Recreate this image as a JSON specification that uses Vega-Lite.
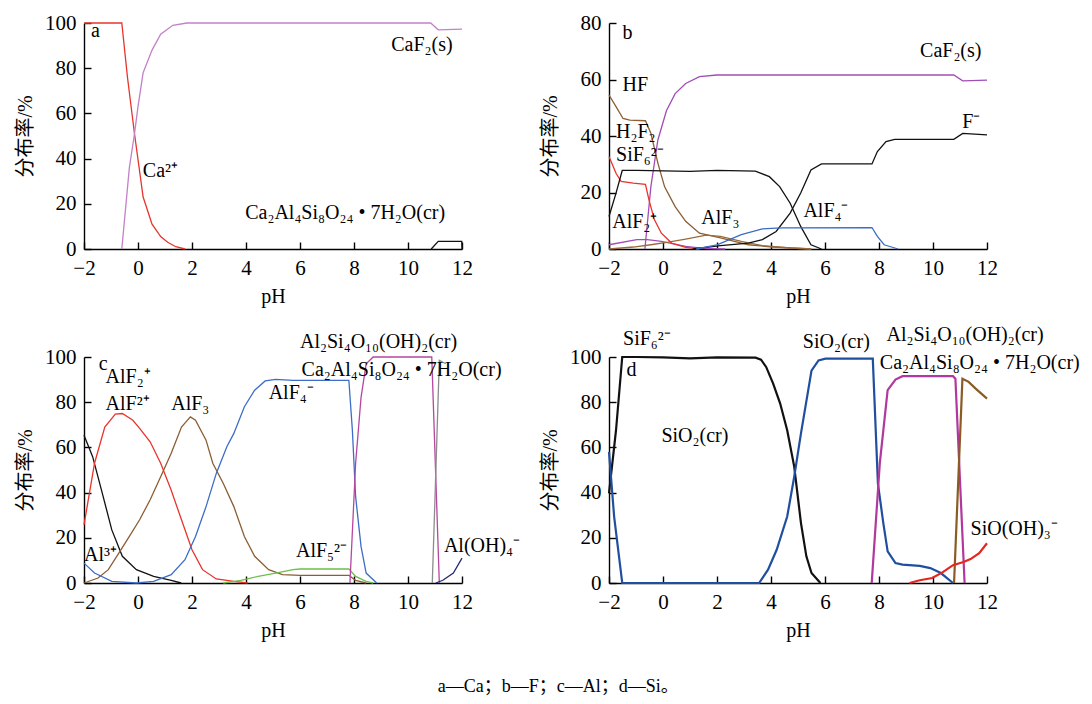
{
  "$schema": "https://vega.github.io/schema/vega-lite/v6.json",
  "padding": {"left": 15, "top": 12, "right": 5, "bottom": 5},
  "background": "white",
  "title": {"text": "a—Ca；b—F；c—Al；d—Si。", "orient": "bottom", "anchor": "middle", "frame": "bounds", "offset": 47, "baseline": "middle", "fontSize": 18, "font": "Liberation Serif, Noto Sans CJK SC", "fontWeight": "normal", "color": "#000", "dx": 11},
  "datasets": {
    "aL": [
      {"s": "Ca2+", "x": -2, "y": 100}, {"s": "Ca2+", "x": -0.6, "y": 100}, {"s": "Ca2+", "x": -0.39, "y": 76}, {"s": "Ca2+", "x": -0.13, "y": 51}, {"s": "Ca2+", "x": 0.19, "y": 23}, {"s": "Ca2+", "x": 0.52, "y": 11}, {"s": "Ca2+", "x": 0.84, "y": 5.5}, {"s": "Ca2+", "x": 1.1, "y": 3}, {"s": "Ca2+", "x": 1.4, "y": 1}, {"s": "Ca2+", "x": 1.74, "y": 0},
      {"s": "CaF2", "x": -0.6, "y": 0}, {"s": "CaF2", "x": -0.32, "y": 36}, {"s": "CaF2", "x": -0.13, "y": 51}, {"s": "CaF2", "x": 0, "y": 63}, {"s": "CaF2", "x": 0.19, "y": 78}, {"s": "CaF2", "x": 0.52, "y": 88}, {"s": "CaF2", "x": 0.84, "y": 95}, {"s": "CaF2", "x": 1.29, "y": 99}, {"s": "CaF2", "x": 1.81, "y": 100}, {"s": "CaF2", "x": 10.84, "y": 100}, {"s": "CaF2", "x": 11.12, "y": 97}, {"s": "CaF2", "x": 12, "y": 97.3},
      {"s": "Zeo", "x": 10.86, "y": 0}, {"s": "Zeo", "x": 11.12, "y": 3.4}, {"s": "Zeo", "x": 11.99, "y": 3.4}, {"s": "Zeo", "x": 12, "y": 0}
    ],
    "aT": [
      {"t": "a", "x": -1.74, "y": 96.6},
      {"t": "CaF₂(s)", "x": 9.38, "y": 90.4},
      {"t": "Ca²⁺", "x": 0.18, "y": 34.6},
      {"t": "Ca₂Al₄Si₈O₂₄ • 7H₂O(cr)", "x": 3.97, "y": 16}
    ],
    "bL": [
      {"s": "CaF2", "x": -0.67, "y": 0}, {"s": "CaF2", "x": -0.45, "y": 22}, {"s": "CaF2", "x": -0.19, "y": 38.6}, {"s": "CaF2", "x": 0.13, "y": 49}, {"s": "CaF2", "x": 0.45, "y": 55}, {"s": "CaF2", "x": 0.84, "y": 58.6}, {"s": "CaF2", "x": 1.35, "y": 61}, {"s": "CaF2", "x": 2.0, "y": 61.6}, {"s": "CaF2", "x": 10.77, "y": 61.6}, {"s": "CaF2", "x": 11.1, "y": 59.5}, {"s": "CaF2", "x": 12, "y": 59.8},
      {"s": "AlF2+", "x": -2, "y": 1.5}, {"s": "AlF2+", "x": -0.97, "y": 3.3}, {"s": "AlF2+", "x": -0.58, "y": 3.3}, {"s": "AlF2+", "x": -0.06, "y": 2.7}, {"s": "AlF2+", "x": 0.84, "y": 0.9}, {"s": "AlF2+", "x": 1.5, "y": 0.2}, {"s": "AlF2+", "x": 2.3, "y": 0},
      {"s": "HF", "x": -2, "y": 54.5}, {"s": "HF", "x": -1.74, "y": 50.4}, {"s": "HF", "x": -1.48, "y": 46.2}, {"s": "HF", "x": -1.23, "y": 45.6}, {"s": "HF", "x": -0.65, "y": 45.4}, {"s": "HF", "x": -0.45, "y": 41}, {"s": "HF", "x": -0.19, "y": 30.4}, {"s": "HF", "x": 0.06, "y": 22}, {"s": "HF", "x": 0.45, "y": 15}, {"s": "HF", "x": 0.84, "y": 9.8}, {"s": "HF", "x": 1.35, "y": 5.6}, {"s": "HF", "x": 2.13, "y": 3.9}, {"s": "HF", "x": 3.16, "y": 1.5}, {"s": "HF", "x": 4.06, "y": 0.7}, {"s": "HF", "x": 5.48, "y": 0},
      {"s": "AlF3", "x": -2, "y": 0}, {"s": "AlF3", "x": -1.1, "y": 0.7}, {"s": "AlF3", "x": -0.45, "y": 1.5}, {"s": "AlF3", "x": 0.19, "y": 2.4}, {"s": "AlF3", "x": 0.84, "y": 3.5}, {"s": "AlF3", "x": 1.6, "y": 4.9}, {"s": "AlF3", "x": 2.13, "y": 4.5}, {"s": "AlF3", "x": 2.9, "y": 2.7}, {"s": "AlF3", "x": 3.68, "y": 1.2}, {"s": "AlF3", "x": 4.7, "y": 0.35}, {"s": "AlF3", "x": 5.5, "y": 0},
      {"s": "H2F2", "x": -2, "y": 32.7}, {"s": "H2F2", "x": -1.74, "y": 26.8}, {"s": "H2F2", "x": -1.55, "y": 23.9}, {"s": "H2F2", "x": -1.1, "y": 23.3}, {"s": "H2F2", "x": -0.65, "y": 22.9}, {"s": "H2F2", "x": -0.52, "y": 17.4}, {"s": "H2F2", "x": -0.32, "y": 10.4}, {"s": "H2F2", "x": -0.06, "y": 5.6}, {"s": "H2F2", "x": 0.32, "y": 2.1}, {"s": "H2F2", "x": 0.84, "y": 0.6}, {"s": "H2F2", "x": 1.35, "y": 0},
      {"s": "SiF6", "x": -2, "y": 11.5}, {"s": "SiF6", "x": -1.74, "y": 19.8}, {"s": "SiF6", "x": -1.51, "y": 27.8}, {"s": "SiF6", "x": -0.97, "y": 27.8}, {"s": "SiF6", "x": 1, "y": 27.5}, {"s": "SiF6", "x": 2, "y": 27.8}, {"s": "SiF6", "x": 3.42, "y": 27.6}, {"s": "SiF6", "x": 3.94, "y": 25.6}, {"s": "SiF6", "x": 4.32, "y": 22.1}, {"s": "SiF6", "x": 4.71, "y": 16.2}, {"s": "SiF6", "x": 5.1, "y": 8}, {"s": "SiF6", "x": 5.48, "y": 1.5}, {"s": "SiF6", "x": 5.87, "y": 0},
      {"s": "F-", "x": 1.1, "y": 0}, {"s": "F-", "x": 2.13, "y": 1.2}, {"s": "F-", "x": 3.16, "y": 2.1}, {"s": "F-", "x": 3.68, "y": 3.3}, {"s": "F-", "x": 4.19, "y": 6.2}, {"s": "F-", "x": 4.71, "y": 12.7}, {"s": "F-", "x": 5.1, "y": 19.8}, {"s": "F-", "x": 5.48, "y": 28}, {"s": "F-", "x": 5.87, "y": 30.1}, {"s": "F-", "x": 7.74, "y": 30.1}, {"s": "F-", "x": 7.94, "y": 34.5}, {"s": "F-", "x": 8.26, "y": 38}, {"s": "F-", "x": 8.58, "y": 38.8}, {"s": "F-", "x": 10.77, "y": 38.8}, {"s": "F-", "x": 11.1, "y": 40.9}, {"s": "F-", "x": 12, "y": 40.4},
      {"s": "AlF4-", "x": 1.23, "y": 0}, {"s": "AlF4-", "x": 2.0, "y": 1.5}, {"s": "AlF4-", "x": 2.9, "y": 5.1}, {"s": "AlF4-", "x": 3.68, "y": 7.1}, {"s": "AlF4-", "x": 4.19, "y": 7.4}, {"s": "AlF4-", "x": 4.45, "y": 7.5}, {"s": "AlF4-", "x": 7.74, "y": 7.6}, {"s": "AlF4-", "x": 7.94, "y": 4.5}, {"s": "AlF4-", "x": 8.19, "y": 1.5}, {"s": "AlF4-", "x": 8.71, "y": 0}
    ],
    "bT": [
      {"t": "b", "x": -1.5, "y": 76.3},
      {"t": "CaF₂(s)", "x": 9.52, "y": 70},
      {"t": "HF", "x": -1.5, "y": 58},
      {"t": "H₂F₂", "x": -1.74, "y": 41.5},
      {"t": "SiF₆²⁻", "x": -1.74, "y": 33.3},
      {"t": "F⁻", "x": 11.08, "y": 45},
      {"t": "AlF₂⁺", "x": -1.88, "y": 9.7},
      {"t": "AlF₃", "x": 1.42, "y": 11},
      {"t": "AlF₄⁻", "x": 5.2, "y": 13.5}
    ],
    "cL": [
      {"s": "Al3+", "x": -2, "y": 65.4}, {"s": "Al3+", "x": -1.68, "y": 55.9}, {"s": "Al3+", "x": -1.35, "y": 41}, {"s": "Al3+", "x": -0.97, "y": 23.5}, {"s": "Al3+", "x": -0.58, "y": 11.8}, {"s": "Al3+", "x": -0.06, "y": 5.9}, {"s": "Al3+", "x": 0.58, "y": 2.9}, {"s": "Al3+", "x": 1.23, "y": 1.2}, {"s": "Al3+", "x": 1.6, "y": 0},
      {"s": "AlF2+", "x": -2, "y": 25.7}, {"s": "AlF2+", "x": -1.61, "y": 53}, {"s": "AlF2+", "x": -1.23, "y": 69}, {"s": "AlF2+", "x": -0.84, "y": 74.7}, {"s": "AlF2+", "x": -0.58, "y": 75}, {"s": "AlF2+", "x": -0.19, "y": 72}, {"s": "AlF2+", "x": 0.06, "y": 68.4}, {"s": "AlF2+", "x": 0.45, "y": 62.5}, {"s": "AlF2+", "x": 0.84, "y": 53}, {"s": "AlF2+", "x": 1.23, "y": 41}, {"s": "AlF2+", "x": 1.61, "y": 28}, {"s": "AlF2+", "x": 2.0, "y": 14.7}, {"s": "AlF2+", "x": 2.39, "y": 5.9}, {"s": "AlF2+", "x": 2.9, "y": 1.8}, {"s": "AlF2+", "x": 3.55, "y": 0.7}, {"s": "AlF2+", "x": 4.06, "y": 0},
      {"s": "AlF3", "x": -2, "y": 0}, {"s": "AlF3", "x": -1.48, "y": 2.2}, {"s": "AlF3", "x": -1.1, "y": 5.9}, {"s": "AlF3", "x": -0.71, "y": 13.2}, {"s": "AlF3", "x": -0.32, "y": 20.6}, {"s": "AlF3", "x": 0.06, "y": 28}, {"s": "AlF3", "x": 0.45, "y": 36.8}, {"s": "AlF3", "x": 0.84, "y": 47}, {"s": "AlF3", "x": 1.23, "y": 57.4}, {"s": "AlF3", "x": 1.61, "y": 69}, {"s": "AlF3", "x": 1.94, "y": 73.5}, {"s": "AlF3", "x": 2.13, "y": 72}, {"s": "AlF3", "x": 2.52, "y": 63.2}, {"s": "AlF3", "x": 2.77, "y": 53}, {"s": "AlF3", "x": 3.16, "y": 44}, {"s": "AlF3", "x": 3.55, "y": 33.8}, {"s": "AlF3", "x": 3.94, "y": 20.6}, {"s": "AlF3", "x": 4.32, "y": 11.8}, {"s": "AlF3", "x": 4.84, "y": 5.9}, {"s": "AlF3", "x": 5.35, "y": 3.7}, {"s": "AlF3", "x": 6.0, "y": 3.4}, {"s": "AlF3", "x": 7.81, "y": 3.4}, {"s": "AlF3", "x": 8.06, "y": 1.2}, {"s": "AlF3", "x": 8.45, "y": 0},
      {"s": "AlF4-", "x": -2, "y": 8.8}, {"s": "AlF4-", "x": -1.61, "y": 4.4}, {"s": "AlF4-", "x": -0.97, "y": 0.7}, {"s": "AlF4-", "x": -0.06, "y": 0}, {"s": "AlF4-", "x": 0.58, "y": 0.7}, {"s": "AlF4-", "x": 1.23, "y": 3.7}, {"s": "AlF4-", "x": 1.74, "y": 10.3}, {"s": "AlF4-", "x": 2.13, "y": 20.6}, {"s": "AlF4-", "x": 2.52, "y": 33.8}, {"s": "AlF4-", "x": 2.9, "y": 48.5}, {"s": "AlF4-", "x": 3.29, "y": 60.3}, {"s": "AlF4-", "x": 3.55, "y": 66.2}, {"s": "AlF4-", "x": 3.94, "y": 78}, {"s": "AlF4-", "x": 4.32, "y": 85.3}, {"s": "AlF4-", "x": 4.71, "y": 89.4}, {"s": "AlF4-", "x": 5.1, "y": 90.1}, {"s": "AlF4-", "x": 5.74, "y": 89.7}, {"s": "AlF4-", "x": 7.81, "y": 89.7}, {"s": "AlF4-", "x": 7.94, "y": 67.6}, {"s": "AlF4-", "x": 8.06, "y": 38.2}, {"s": "AlF4-", "x": 8.26, "y": 16.2}, {"s": "AlF4-", "x": 8.45, "y": 4.4}, {"s": "AlF4-", "x": 8.84, "y": 0},
      {"s": "AlF5", "x": 3.16, "y": 0}, {"s": "AlF5", "x": 3.81, "y": 1.2}, {"s": "AlF5", "x": 4.45, "y": 2.9}, {"s": "AlF5", "x": 5.1, "y": 4.4}, {"s": "AlF5", "x": 5.74, "y": 5.9}, {"s": "AlF5", "x": 6.0, "y": 6.2}, {"s": "AlF5", "x": 7.81, "y": 6.2}, {"s": "AlF5", "x": 8.06, "y": 2.9}, {"s": "AlF5", "x": 8.45, "y": 0.7}, {"s": "AlF5", "x": 8.71, "y": 0},
      {"s": "Kaol", "x": 7.85, "y": 0}, {"s": "Kaol", "x": 8.06, "y": 53}, {"s": "Kaol", "x": 8.26, "y": 82}, {"s": "Kaol", "x": 8.45, "y": 97}, {"s": "Kaol", "x": 8.71, "y": 100}, {"s": "Kaol", "x": 10.88, "y": 100}, {"s": "Kaol", "x": 11.16, "y": 0},
      {"s": "Zeo", "x": 10.9, "y": 0}, {"s": "Zeo", "x": 11.16, "y": 98.5}, {"s": "Zeo", "x": 11.4, "y": 97},
      {"s": "AlOH4", "x": 11.03, "y": 0}, {"s": "AlOH4", "x": 11.29, "y": 1.2}, {"s": "AlOH4", "x": 11.68, "y": 4.4}, {"s": "AlOH4", "x": 12, "y": 11}
    ],
    "cT": [
      {"t": "c", "x": -1.45, "y": 96.8},
      {"t": "AlF₂⁺", "x": -1.2, "y": 91},
      {"t": "AlF²⁺", "x": -1.2, "y": 79.4},
      {"t": "AlF₃", "x": 1.23, "y": 79},
      {"t": "AlF₄⁻", "x": 4.84, "y": 84},
      {"t": "Al³⁺", "x": -2, "y": 12.5},
      {"t": "AlF₅²⁻", "x": 5.85, "y": 14.3},
      {"t": "Al(OH)₄⁻", "x": 11.33, "y": 16.2},
      {"t": "Al₂Si₄O₁₀(OH)₂(cr)", "x": 6.0, "y": 106.6},
      {"t": "Ca₂Al₄Si₈O₂₄ • 7H₂O(cr)", "x": 6.06, "y": 94.4}
    ],
    "dL": [
      {"s": "SiF6", "x": -2, "y": 39.7}, {"s": "SiF6", "x": -1.74, "y": 67.6}, {"s": "SiF6", "x": -1.51, "y": 100}, {"s": "SiF6", "x": -0.97, "y": 100}, {"s": "SiF6", "x": 0, "y": 99.8}, {"s": "SiF6", "x": 1, "y": 99.4}, {"s": "SiF6", "x": 2, "y": 99.8}, {"s": "SiF6", "x": 3.43, "y": 99.7}, {"s": "SiF6", "x": 3.63, "y": 98.8}, {"s": "SiF6", "x": 3.82, "y": 95.6}, {"s": "SiF6", "x": 4.08, "y": 88.2}, {"s": "SiF6", "x": 4.34, "y": 79.4}, {"s": "SiF6", "x": 4.6, "y": 67.6}, {"s": "SiF6", "x": 4.86, "y": 51.5}, {"s": "SiF6", "x": 5.11, "y": 26.5}, {"s": "SiF6", "x": 5.31, "y": 11.8}, {"s": "SiF6", "x": 5.5, "y": 4.4}, {"s": "SiF6", "x": 5.83, "y": 0},
      {"s": "SiO2", "x": -2, "y": 58}, {"s": "SiO2", "x": -1.81, "y": 29.4}, {"s": "SiO2", "x": -1.51, "y": 0}, {"s": "SiO2", "x": 3.56, "y": 0}, {"s": "SiO2", "x": 3.89, "y": 5.9}, {"s": "SiO2", "x": 4.21, "y": 14.7}, {"s": "SiO2", "x": 4.6, "y": 29.4}, {"s": "SiO2", "x": 4.86, "y": 47}, {"s": "SiO2", "x": 5.11, "y": 66.2}, {"s": "SiO2", "x": 5.5, "y": 94}, {"s": "SiO2", "x": 5.76, "y": 98.5}, {"s": "SiO2", "x": 6.02, "y": 99.3}, {"s": "SiO2", "x": 7.77, "y": 99.3}, {"s": "SiO2", "x": 7.96, "y": 44}, {"s": "SiO2", "x": 8.16, "y": 26.5}, {"s": "SiO2", "x": 8.32, "y": 14}, {"s": "SiO2", "x": 8.61, "y": 8.8}, {"s": "SiO2", "x": 8.87, "y": 8.1}, {"s": "SiO2", "x": 9.51, "y": 7.6}, {"s": "SiO2", "x": 9.9, "y": 6.6}, {"s": "SiO2", "x": 10.29, "y": 4.4}, {"s": "SiO2", "x": 10.74, "y": 0},
      {"s": "Kaol", "x": 7.73, "y": 0}, {"s": "Kaol", "x": 8.03, "y": 53}, {"s": "Kaol", "x": 8.32, "y": 85.3}, {"s": "Kaol", "x": 8.61, "y": 90}, {"s": "Kaol", "x": 8.87, "y": 91.5}, {"s": "Kaol", "x": 10.74, "y": 91.5}, {"s": "Kaol", "x": 10.83, "y": 90.4}, {"s": "Kaol", "x": 11.17, "y": 0},
      {"s": "Zeo", "x": 10.78, "y": 0}, {"s": "Zeo", "x": 11.09, "y": 90.4}, {"s": "Zeo", "x": 11.32, "y": 89}, {"s": "Zeo", "x": 11.58, "y": 86}, {"s": "Zeo", "x": 12, "y": 81.6},
      {"s": "SiOOH3", "x": 9.13, "y": 0}, {"s": "SiOOH3", "x": 9.51, "y": 1.2}, {"s": "SiOOH3", "x": 9.97, "y": 2.2}, {"s": "SiOOH3", "x": 10.35, "y": 4.7}, {"s": "SiOOH3", "x": 10.74, "y": 7.9}, {"s": "SiOOH3", "x": 11.13, "y": 9.3}, {"s": "SiOOH3", "x": 11.39, "y": 10.6}, {"s": "SiOOH3", "x": 11.71, "y": 13.2}, {"s": "SiOOH3", "x": 12, "y": 17.6}
    ],
    "dT": [
      {"t": "SiF₆²⁻", "x": -1.48, "y": 108},
      {"t": "d", "x": -1.35, "y": 94.4},
      {"t": "SiO₂(cr)", "x": -0.06, "y": 65},
      {"t": "SiO₂(cr)", "x": 5.18, "y": 106.5},
      {"t": "Al₂Si₄O₁₀(OH)₂(cr)", "x": 8.28, "y": 109.6},
      {"t": "Ca₂Al₄Si₈O₂₄ • 7H₂O(cr)", "x": 8.03, "y": 97.4},
      {"t": "SiO(OH)₃⁻", "x": 11.39, "y": 23.8}
    ]
  },
  "columns": 2,
  "concat": [
    {
      "width": 378, "height": 226,
      "encoding": {
        "x": {"field": "x", "type": "quantitative", "scale": {"domain": [-2, 12], "nice": false, "zero": false}, "axis": {"values": [-2, 0, 2, 4, 6, 8, 10, 12]}, "title": "pH"},
        "y": {"field": "y", "type": "quantitative", "scale": {"domain": [0, 100], "nice": false}, "axis": {"values": [0, 20, 40, 60, 80, 100]}, "title": "分布率/%"}
      },
      "layer": [
        {"data": {"name": "aL"}, "mark": {"type": "line", "strokeWidth": 1.3},
         "encoding": {"color": {"field": "s", "type": "nominal", "legend": null, "scale": {"domain": ["Ca2+", "CaF2", "Zeo"], "range": ["#e8342d", "#c381c8", "#111111"]}}}},
        {"data": {"name": "aT"}, "mark": {"type": "text"}, "encoding": {"text": {"field": "t"}}}
      ]
    },
    {
      "width": 378, "height": 226,
      "encoding": {
        "x": {"field": "x", "type": "quantitative", "scale": {"domain": [-2, 12], "nice": false, "zero": false}, "axis": {"values": [-2, 0, 2, 4, 6, 8, 10, 12]}, "title": "pH"},
        "y": {"field": "y", "type": "quantitative", "scale": {"domain": [0, 80], "nice": false}, "axis": {"values": [0, 20, 40, 60, 80]}, "title": "分布率/%"}
      },
      "layer": [
        {"data": {"name": "bL"}, "mark": {"type": "line", "strokeWidth": 1.3},
         "encoding": {"color": {"field": "s", "type": "nominal", "legend": null, "scale": {"domain": ["CaF2", "AlF2+", "HF", "AlF3", "H2F2", "SiF6", "F-", "AlF4-"], "range": ["#a24db5", "#a24db5", "#8b5e34", "#9a6a3a", "#e8342d", "#111111", "#111111", "#3b6cc2"]}}}},
        {"data": {"name": "bT"}, "mark": {"type": "text"}, "encoding": {"text": {"field": "t"}}}
      ]
    },
    {
      "width": 378, "height": 226,
      "encoding": {
        "x": {"field": "x", "type": "quantitative", "scale": {"domain": [-2, 12], "nice": false, "zero": false}, "axis": {"values": [-2, 0, 2, 4, 6, 8, 10, 12]}, "title": "pH"},
        "y": {"field": "y", "type": "quantitative", "scale": {"domain": [0, 100], "nice": false}, "axis": {"values": [0, 20, 40, 60, 80, 100]}, "title": "分布率/%"}
      },
      "layer": [
        {"data": {"name": "cL"}, "mark": {"type": "line", "strokeWidth": 1.3},
         "encoding": {"color": {"field": "s", "type": "nominal", "legend": null, "scale": {"domain": ["Al3+", "AlF2+", "AlF3", "AlF4-", "AlF5", "Kaol", "Zeo", "AlOH4"], "range": ["#111111", "#e8342d", "#8b5e34", "#3d6dc7", "#6cbf4a", "#b5479f", "#8c8c8c", "#242a72"]}}}},
        {"data": {"name": "cT"}, "mark": {"type": "text"}, "encoding": {"text": {"field": "t"}}}
      ]
    },
    {
      "width": 378, "height": 226,
      "encoding": {
        "x": {"field": "x", "type": "quantitative", "scale": {"domain": [-2, 12], "nice": false, "zero": false}, "axis": {"values": [-2, 0, 2, 4, 6, 8, 10, 12]}, "title": "pH"},
        "y": {"field": "y", "type": "quantitative", "scale": {"domain": [0, 100], "nice": false}, "axis": {"values": [0, 20, 40, 60, 80, 100]}, "title": "分布率/%"}
      },
      "layer": [
        {"data": {"name": "dL"}, "mark": {"type": "line", "strokeWidth": 2.2},
         "encoding": {"color": {"field": "s", "type": "nominal", "legend": null, "scale": {"domain": ["SiF6", "SiO2", "Kaol", "Zeo", "SiOOH3"], "range": ["#111111", "#1f4f9e", "#b0389e", "#8a5c24", "#e5261f"]}}}},
        {"data": {"name": "dT"}, "mark": {"type": "text"}, "encoding": {"text": {"field": "t"}}}
      ]
    }
  ],
  "spacing": {"row": 108, "column": 147},
  "bounds": "flush",
  "resolve": {"scale": {"color": "independent"}},
  "config": {
    "view": {"stroke": null},
    "font": "Liberation Serif",
    "axis": {"domainColor": "#000", "domainWidth": 1.4, "tickColor": "#000", "tickWidth": 1.4, "tickSize": -7, "labelFont": "Liberation Serif", "labelFontSize": 21, "labelColor": "#000", "titleFont": "Liberation Serif, Noto Sans CJK SC", "titleFontSize": 20, "titleFontWeight": "normal", "titleColor": "#000", "grid": false, "labelPadding": 15},
    "axisX": {"labelFlush": false, "titleY": 47, "titleBaseline": "middle"},
    "axisY": {"titleX": -59, "titleBaseline": "middle"},
    "text": {"font": "Liberation Serif", "fontSize": 20, "align": "left", "baseline": "middle", "color": "#000"}
  }
}
